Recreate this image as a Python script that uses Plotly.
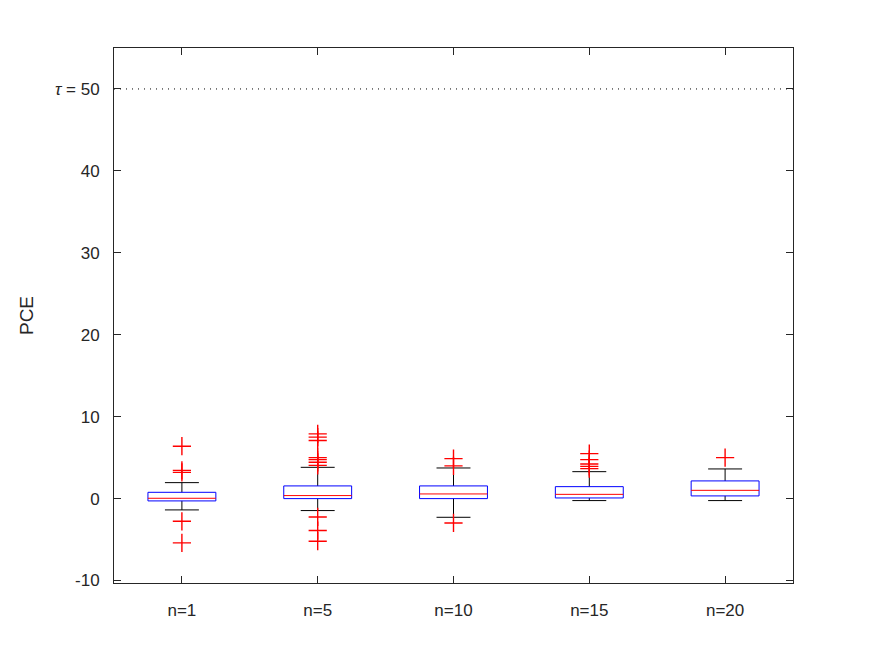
import plotly.graph_objects as go

categories = ["n=1", "n=5", "n=10", "n=15", "n=20"]
q1 = [-0.28, 0.00, 0.00, 0.08, 0.33]
median = [0.04, 0.37, 0.57, 0.52, 1.01]
q3 = [0.77, 1.55, 1.55, 1.46, 2.16]
lower_whisker = [-1.38, -1.46, -2.28, -0.24, -0.24]
upper_whisker = [1.95, 3.82, 3.74, 3.29, 3.62]
outliers = [
    [6.4, 3.45, 3.2, -2.77, -5.4],
    [7.9, 7.5, 7.1, 5.0, 4.76, 4.43, 4.06, -2.24, -3.9, -5.2],
    [4.88, 4.0, -2.97],
    [5.49, 4.76, 4.23, 3.94, 3.66],
    [5.0],
]
tau = 50
yticks = [-10, 0, 10, 20, 30, 40, 50]
yticklabels = ["-10", "0", "10", "20", "30", "40", "<i>τ</i> = 50"]

BOX_HALF = 0.25
CAP_HALF = 0.125
pos = list(range(1, len(categories) + 1))

fig = go.Figure()

# whiskers (vertical) and caps
wx, wy = [], []
for p, lo, hi, a, b in zip(pos, lower_whisker, upper_whisker, q1, q3):
    wx += [p, p, None, p, p, None, p - CAP_HALF, p + CAP_HALF, None, p - CAP_HALF, p + CAP_HALF, None]
    wy += [b, hi, None, a, lo, None, hi, hi, None, lo, lo, None]
fig.add_trace(go.Scatter(x=wx, y=wy, mode="lines", line=dict(color="black", width=1),
                         hoverinfo="skip", showlegend=False))

# boxes
bx, by = [], []
for p, a, b in zip(pos, q1, q3):
    bx += [p - BOX_HALF, p + BOX_HALF, p + BOX_HALF, p - BOX_HALF, p - BOX_HALF, None]
    by += [a, a, b, b, a, None]
fig.add_trace(go.Scatter(x=bx, y=by, mode="lines", line=dict(color="blue", width=1),
                         hoverinfo="skip", showlegend=False))

# medians
mx, my = [], []
for p, m in zip(pos, median):
    mx += [p - BOX_HALF, p + BOX_HALF, None]
    my += [m, m, None]
fig.add_trace(go.Scatter(x=mx, y=my, mode="lines", line=dict(color="red", width=1),
                         hoverinfo="skip", showlegend=False))

# outliers
ox, oy = [], []
for p, outs in zip(pos, outliers):
    for v in outs:
        ox.append(p)
        oy.append(v)
fig.add_trace(go.Scatter(x=ox, y=oy, mode="markers",
                         marker=dict(symbol="cross-thin", size=13, line=dict(color="red", width=1.4)),
                         showlegend=False))

# tau line
fig.add_trace(go.Scatter(x=[0.5, len(categories) + 0.5], y=[tau, tau], mode="lines",
                         line=dict(color="black", width=1, dash="1px,5px"), hoverinfo="skip",
                         showlegend=False))

axis_color = "#262626"
fig.update_layout(
    width=875, height=657,
    margin=dict(l=114, r=82, t=48, b=74),
    plot_bgcolor="white", paper_bgcolor="white",
    font=dict(family="Liberation Sans, Arial, sans-serif", size=17, color="#262626"),
    xaxis=dict(range=[0.5, len(categories) + 0.5], tickvals=pos, ticktext=categories,
               showgrid=False, zeroline=False, showline=True, linecolor=axis_color, linewidth=1,
               mirror="ticks", ticks="inside", ticklen=7, tickcolor=axis_color,
               tickfont=dict(size=17), ticklabelstandoff=12),
    yaxis=dict(range=[-10.3, 55], tickvals=yticks, ticktext=yticklabels,
               showgrid=False, zeroline=False, showline=True, linecolor=axis_color, linewidth=1,
               mirror="ticks", ticks="inside", ticklen=7, tickcolor=axis_color,
               tickfont=dict(size=17), ticklabelstandoff=10,
               title=dict(text="PCE", font=dict(size=19), standoff=16)),
)

fig.write_html("out.html")
